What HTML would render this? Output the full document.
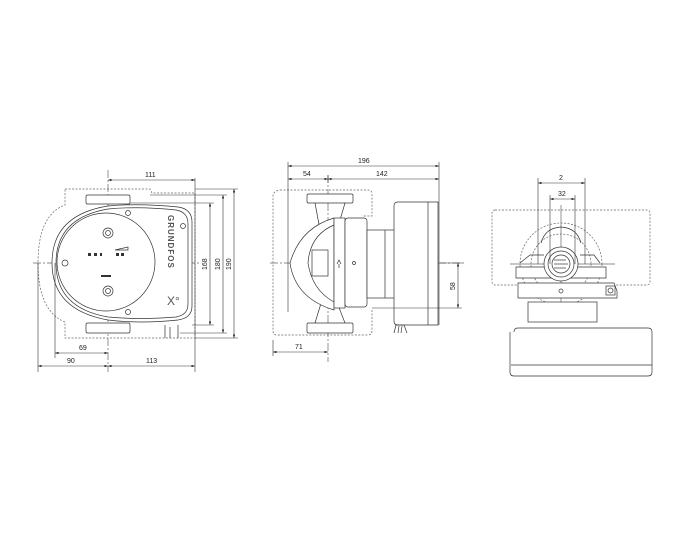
<!DOCTYPE html>
<html><head><meta charset="utf-8"><style>
html,body{margin:0;padding:0;background:#fff;}
svg{display:block;}
text{font-family:"Liberation Sans",sans-serif;font-size:7px;fill:#222;}
</style></head><body>
<svg width="689" height="542" viewBox="0 0 689 542" xmlns="http://www.w3.org/2000/svg">
<defs>
<marker id="a" viewBox="0 0 6 4" refX="6" refY="2" markerWidth="6" markerHeight="4" orient="auto-start-reverse"><path d="M0,0L6,2L0,4z" fill="#222"/></marker>
</defs>
<g fill="none" stroke="#333" stroke-width="0.7">
<!-- ===== VIEW 1 ===== -->
<path d="M65,189 L150,189 L152,193 L195,193 L195,338 L65,338 L65,322 Q38,311 38,263 Q38,215 65,205 Z" stroke-dasharray="2,1.5" stroke="#666"/>
<line x1="33" y1="263" x2="200" y2="263" stroke-dasharray="8,2,2,2" stroke="#666"/>
<line x1="108" y1="170" x2="108" y2="372" stroke-dasharray="8,2,2,2" stroke="#666"/>
<rect x="86" y="195" width="44" height="9" rx="1.5" fill="#fff"/>
<rect x="86" y="323" width="44" height="10" rx="1.5" fill="#fff"/>
<path d="M108,206 Q140,203 178,207 Q192,209 192,222 L192,306 Q192,318 178,320 Q140,324 108,320 Q52,310 52,263 Q52,215 108,206 Z" fill="#fff"/>
<path d="M108,209 Q140,206 176,210 Q188,212 188,224 L188,304 Q188,315 176,317 Q140,320 108,317 Q56,308 56,263 Q56,218 108,209 Z"/>
<circle cx="106" cy="262" r="49"/>
<circle cx="108" cy="233" r="5"/><circle cx="108" cy="233" r="2.5"/>
<circle cx="108" cy="291" r="5"/><circle cx="108" cy="291" r="2.5"/>
<circle cx="65" cy="263" r="3"/><circle cx="128" cy="213" r="2.5"/><circle cx="183" cy="226" r="2.5"/><circle cx="128" cy="312" r="2.5"/>
<path d="M115,250 L128,247 L128,250 Z"/>
<path d="M165,325 L165,338 M170,327 L170,338 M178,325 L178,338" />
</g>
<g fill="#333">
<rect x="88" y="253" width="3" height="3"/><rect x="94" y="253" width="3" height="3"/><rect x="100" y="253" width="2" height="3"/>
<rect x="116" y="253" width="3" height="3"/><rect x="121" y="253" width="3" height="3"/>
<rect x="101" y="275" width="10" height="2"/>
</g>
<text x="0" y="0" transform="translate(168,215) rotate(90)" style="font-size:8px;font-weight:bold;letter-spacing:1px;fill:#555">GRUNDFOS</text>
<text x="167" y="305" style="font-size:12px;fill:#555">X°</text>
<g stroke="#333" stroke-width="0.6" fill="none">
<line x1="195" y1="178" x2="195" y2="372"/>
<line x1="38" y1="263" x2="38" y2="372"/>
<line x1="55" y1="263" x2="55" y2="358"/>
<line x1="130" y1="203" x2="214" y2="203"/><line x1="192" y1="325" x2="214" y2="325"/>
<line x1="150" y1="195" x2="227" y2="195"/><line x1="180" y1="333" x2="227" y2="333"/>
<line x1="195" y1="189" x2="238" y2="189"/><line x1="195" y1="338" x2="238" y2="338"/>
<line x1="108" y1="180" x2="195" y2="180" marker-start="url(#a)" marker-end="url(#a)"/>
<line x1="210" y1="203" x2="210" y2="325" marker-start="url(#a)" marker-end="url(#a)"/>
<line x1="223" y1="195" x2="223" y2="333" marker-start="url(#a)" marker-end="url(#a)"/>
<line x1="234" y1="189" x2="234" y2="338" marker-start="url(#a)" marker-end="url(#a)"/>
<line x1="55" y1="353" x2="108" y2="353" marker-start="url(#a)" marker-end="url(#a)"/>
<line x1="38" y1="366" x2="108" y2="366" marker-start="url(#a)" marker-end="url(#a)"/>
<line x1="108" y1="366" x2="195" y2="366" marker-start="url(#a)" marker-end="url(#a)"/>
</g>
<text x="145" y="177">111</text>
<text x="79" y="350">69</text>
<text x="67" y="363">90</text>
<text x="146" y="363">113</text>
<text transform="translate(207,270) rotate(-90)">168</text>
<text transform="translate(220,270) rotate(-90)">180</text>
<text transform="translate(231,270) rotate(-90)">190</text>

<!-- ===== VIEW 2 ===== -->
<g fill="none" stroke="#333" stroke-width="0.7">
<path d="M280,190 L368,190 Q372,190 372,194 L372,216 L362,216 M372,310 L372,331 Q372,335 368,335 L277,335 Q273,335 273,331 L273,196 Q273,191 280,190" stroke-dasharray="2,1.5" stroke="#666"/>
<line x1="270" y1="263" x2="465" y2="263" stroke-dasharray="8,2,2,2" stroke="#666"/>
<line x1="328" y1="175" x2="328" y2="362" stroke-dasharray="8,2,2,2" stroke="#666"/>
<rect x="307" y="194" width="46" height="9" rx="1.5" fill="#fff"/>
<rect x="307" y="323" width="46" height="10" rx="1.5" fill="#fff"/>
<path d="M315,203 L320,230 M345,203 L340,220 M315,323 L322,300 M345,323 L338,305"/>
<path d="M334,218 Q300,228 290,263 Q295,298 334,310 Z" fill="#fff"/>
<path d="M334,225 Q310,235 308,263 Q312,290 334,302"/>
<rect x="312" y="250" width="16" height="26"/>
<rect x="334" y="218" width="11" height="90" fill="#fff"/>
<rect x="345" y="218" width="22" height="89" rx="3" fill="#fff"/>
<rect x="367" y="230" width="28" height="68" fill="#fff"/>
<line x1="385" y1="230" x2="385" y2="298"/>
<path d="M394,206 Q394,202 398,202 L438,202 L438,325 L398,325 Q394,325 394,321 Z" fill="#fff"/>
<line x1="428" y1="202" x2="428" y2="325"/>
<circle cx="354" cy="263" r="1.5"/>
<path d="M337,264 L339,260 L341,264 M339,264 L339,268"/>
<path d="M394,333 L396,325 L404,325 L407,333 M398,333 L399,326 M401,333 L402,326"/>
</g>
<g stroke="#333" stroke-width="0.6" fill="none">
<line x1="288" y1="162" x2="288" y2="312"/><line x1="439" y1="162" x2="439" y2="325"/>
<line x1="328" y1="175" x2="328" y2="183"/>
<line x1="273" y1="340" x2="273" y2="356"/>
<line x1="440" y1="263" x2="462" y2="263"/><line x1="372" y1="308" x2="462" y2="308"/>
<line x1="288" y1="166" x2="439" y2="166" marker-start="url(#a)" marker-end="url(#a)"/>
<line x1="288" y1="179" x2="328" y2="179" marker-start="url(#a)" marker-end="url(#a)"/>
<line x1="328" y1="179" x2="439" y2="179" marker-start="url(#a)" marker-end="url(#a)"/>
<line x1="458" y1="263" x2="458" y2="308" marker-start="url(#a)" marker-end="url(#a)"/>
<line x1="273" y1="352" x2="328" y2="352" marker-start="url(#a)" marker-end="url(#a)"/>
</g>
<text x="358" y="163">196</text>
<text x="303" y="176">54</text>
<text x="376" y="176">142</text>
<text x="295" y="349">71</text>
<text transform="translate(455,290) rotate(-90)">58</text>

<!-- ===== VIEW 3 ===== -->
<g fill="none" stroke="#333" stroke-width="0.7">
<rect x="492" y="210" width="158" height="75" rx="3" stroke-dasharray="2,1.5" stroke="#666"/>
<circle cx="561" cy="264" r="41" stroke-dasharray="2,1.5" stroke="#666"/>
<circle cx="561" cy="264" r="30" stroke-dasharray="2,1.5" stroke="#666"/>
<line x1="510" y1="264" x2="615" y2="264" stroke="#666"/>
<line x1="561" y1="205" x2="561" y2="310" stroke="#666"/>
<rect x="528" y="302" width="69" height="20" fill="#fff"/>
<path d="M514,332 Q514,328 518,328 L648,328 Q652,328 652,332 L652,372 Q652,376 648,376 L514,376 Q510,376 510,372 L510,332" fill="#fff"/>
<line x1="511" y1="365" x2="652" y2="365"/>
<path d="M516,267 L606,267 L606,278 L516,278 Z" fill="#fff"/>
<path d="M518,283 L614,283 L617,291 L617,298 L518,298 Z" fill="#fff"/>
<path d="M520,263 L530,255 L544,255 M580,255 L594,255 L600,263"/>
<path d="M541,243 Q545,228 561,227 Q577,228 581,243"/>
<circle cx="561" cy="264" r="17" fill="#fff"/>
<circle cx="561" cy="264" r="13"/>
<circle cx="561" cy="264" r="9"/>
<line x1="554" y1="264" x2="568" y2="264"/><line x1="554" y1="260" x2="566" y2="260"/><line x1="554" y1="268" x2="566" y2="268"/>
<circle cx="561" cy="291" r="2"/>
<rect x="606" y="286" width="9" height="9"/><circle cx="610.5" cy="290.5" r="2.5"/>
</g>
<g stroke="#333" stroke-width="0.6" fill="none">
<line x1="538" y1="178" x2="538" y2="264"/><line x1="585" y1="178" x2="585" y2="264"/>
<line x1="550" y1="195" x2="550" y2="264"/><line x1="575" y1="195" x2="575" y2="264"/>
<line x1="538" y1="183" x2="585" y2="183" marker-start="url(#a)" marker-end="url(#a)"/>
<line x1="550" y1="199" x2="575" y2="199" marker-start="url(#a)" marker-end="url(#a)"/>
</g>
<text x="559" y="180">2</text>
<text x="558" y="196">32</text>
</svg>
</body></html>
